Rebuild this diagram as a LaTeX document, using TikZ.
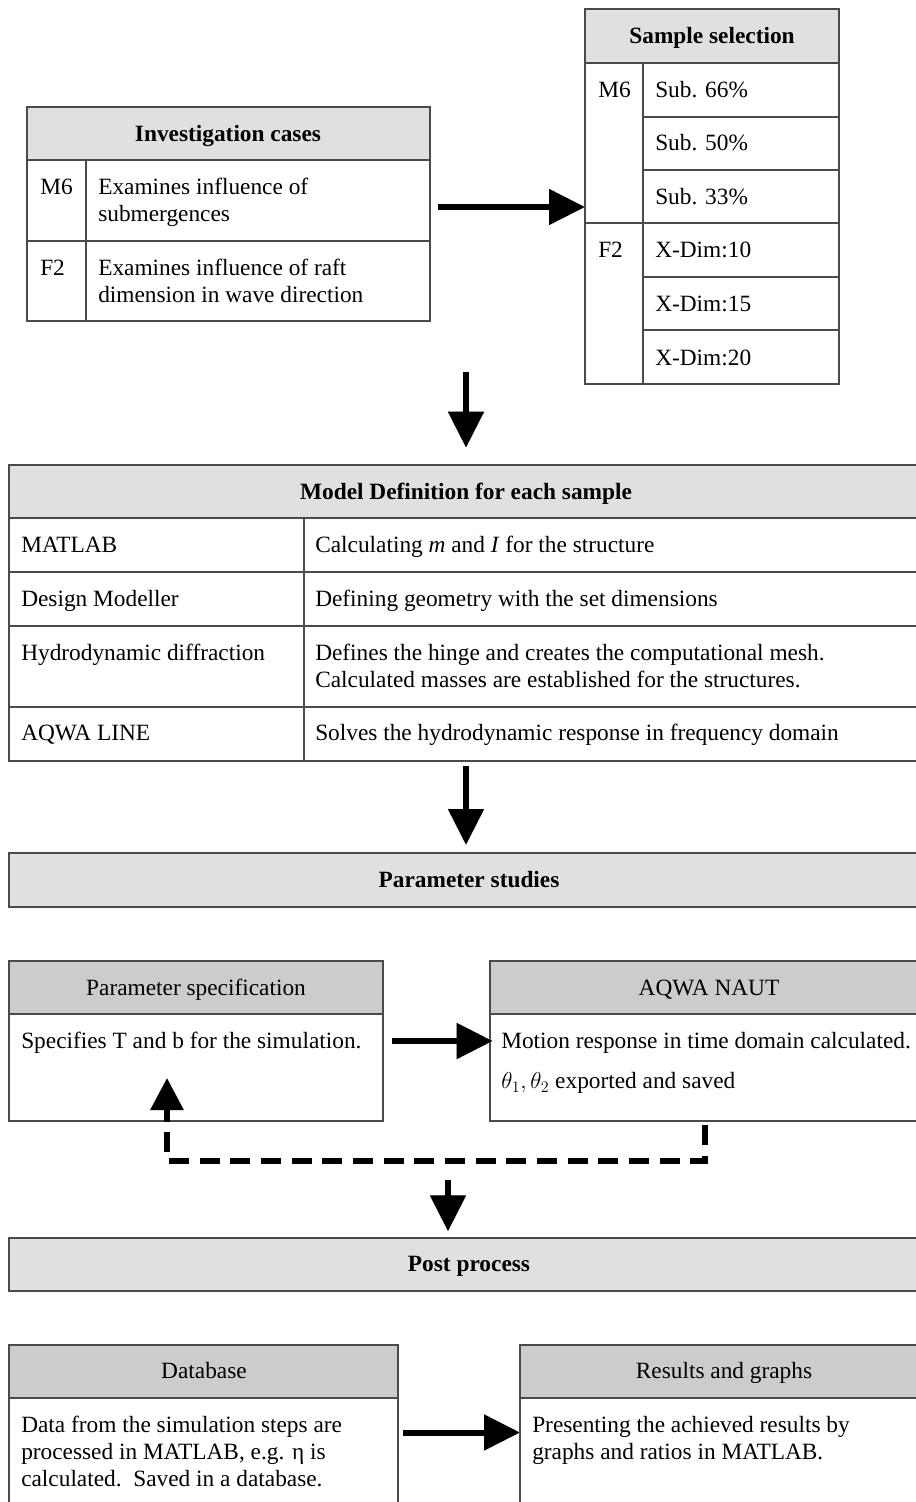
\documentclass[tikz,border=0pt]{standalone}
\usepackage{fontspec}
\setmainfont{Liberation Serif}
\usetikzlibrary{arrows.meta,fit}
\definecolor{hdrlight}{HTML}{E0E0E0}
\definecolor{hdrdark}{HTML}{CCCCCC}
\definecolor{rulec}{HTML}{4A4A4A}
\begin{document}
\begin{tikzpicture}[x=0.75pt,y=-0.75pt,
  font=\fontsize{17.5}{20.25}\selectfont,
  frame/.style={draw=rulec, line width=0.9pt, inner sep=0pt, outer sep=0pt},
  rl/.style={draw=rulec, line width=0.9pt},
  txt/.style={anchor=west, inner sep=0pt, align=left, text height=11.6pt, text depth=0pt},
  hd/.style={inner sep=0pt, text height=11.6pt, text depth=0pt, font=\fontsize{17.5}{20.25}\selectfont\bfseries},
  hn/.style={inner sep=0pt, text height=11.6pt, text depth=0pt},
  arrowshadow/.style={draw=gray!40, line width=4.5pt, -{Triangle[length=27pt,width=26pt]}},
  bigarrow/.style={draw=black, line width=4.5pt, -{Triangle[length=27pt,width=26pt]}},
  dasharrow/.style={line width=4.5pt, dash pattern=on 15pt off 8pt, -{Triangle[length=24pt,width=24pt]}},
]
\useasboundingbox (0,0) rectangle (916,1502);

% ---------- Investigation cases ----------
\fill[hdrlight] (27,107) rectangle (430,160);
\node[frame, fit={(27,107)(430,321)}] (ic) {};
\draw[rl] (27,160) -- (430,160);
\draw[rl] (27,241) -- (430,241);
\draw[rl] (86,160) -- (86,321);
\node[hd] (ich) at (228,134) {Investigation cases};
\node[txt] (icm6) at (40,187) {M6};
\node[txt] (icm6t) at (98,214) {Examines influence of\\submergences};
\node[txt] (icf2) at (40,268) {F2};
\node[txt] (icf2t) at (98,295) {Examines influence of raft\\dimension in wave direction};

% ---------- Sample selection ----------
\fill[hdrlight] (585,9) rectangle (839,63);
\node[frame, fit={(585,9)(839,384)}] (ss) {};
\draw[rl] (585,63) -- (839,63);
\draw[rl] (643,117) -- (839,117);
\draw[rl] (643,170) -- (839,170);
\draw[rl] (585,223) -- (839,223);
\draw[rl] (643,277) -- (839,277);
\draw[rl] (643,330) -- (839,330);
\draw[rl] (643,63) -- (643,384);
\node[hd] (ssh) at (712,36) {Sample selection};
\node[txt] (ssm6) at (598,90) {M6};
\node[txt] (ss1) at (655,90) {Sub. 66\%};
\node[txt] (ss2) at (655,143) {Sub. 50\%};
\node[txt] (ss3) at (655,197) {Sub. 33\%};
\node[txt] (ssf2) at (598,250) {F2};
\node[txt] (ss4) at (655,250) {X-Dim:10};
\node[txt] (ss5) at (655,304) {X-Dim:15};
\node[txt] (ss6) at (655,358) {X-Dim:20};

% ---------- Model definition ----------
\fill[hdrlight] (9,465) rectangle (930,518);
\node[frame, fit={(9,465)(930,761)}] (md) {};
\draw[rl] (9,518) -- (930,518);
\draw[rl] (9,572) -- (930,572);
\draw[rl] (9,626) -- (930,626);
\draw[rl] (9,707) -- (930,707);
\draw[rl] (304,518) -- (304,761);
\node[hd] (mdh) at (466,492) {Model Definition for each sample};
\node[txt] (md1) at (21,545) {MATLAB};
\node[txt] (md2) at (21,599) {Design Modeller};
\node[txt] (md3) at (21,653) {Hydrodynamic diffraction};
\node[txt] (md4) at (21,733) {AQWA LINE};
\node[txt] (md1t) at (315,545) {Calculating \textit{m} and \textit{I} for the structure};
\node[txt] (md2t) at (315,599) {Defining geometry with the set dimensions};
\node[txt] (md3t) at (315,680) {Defines the hinge and creates the computational mesh.\\Calculated masses are established for the structures.};
\node[txt] (md4t) at (315,733) {Solves the hydrodynamic response in frequency domain};

% ---------- Parameter studies ----------
\node[frame, fill=hdrlight, fit={(9,853)(930,907)}] (ps) {};
\node[hd] (psh) at (469,880) {Parameter studies};

% ---------- Parameter specification ----------
\fill[hdrdark] (9,961) rectangle (383,1014);
\node[frame, fit={(9,961)(383,1121)}] (pspec) {};
\draw[rl] (9,1014) -- (383,1014);
\node[hn] (pspech) at (196,988) {Parameter specification};
\node[txt] (pspect) at (21,1041) {Specifies T and b for the simulation.};

% ---------- AQWA NAUT ----------
\fill[hdrdark] (490,961) rectangle (930,1014);
\node[frame, fit={(490,961)(930,1121)}] (naut) {};
\draw[rl] (490,1014) -- (930,1014);
\node[hn] (nauth) at (709,988) {AQWA NAUT};
\node[txt] (nautt1) at (501,1041) {Motion response in time domain calculated.};
\node[txt] (nautt2) at (501,1081) {$\theta_1,\theta_2$ exported and saved};

% ---------- Post process ----------
\node[frame, fill=hdrlight, fit={(9,1238)(930,1291)}] (pp) {};
\node[hd] (pph) at (469,1264) {Post process};

% ---------- Database ----------
\fill[hdrdark] (9,1345) rectangle (398,1398);
\node[frame, fit={(9,1345)(398,1520)}] (db) {};
\draw[rl] (9,1398) -- (398,1398);
\node[hn] (dbh) at (204,1371) {Database};
\node[txt] (dbt) at (21,1479) {Data from the simulation steps are\\processed in MATLAB, e.g. η is\\calculated.\ \ Saved in a database.};

% ---------- Results and graphs ----------
\fill[hdrdark] (520,1345) rectangle (930,1398);
\node[frame, fit={(520,1345)(930,1520)}] (rg) {};
\draw[rl] (520,1398) -- (930,1398);
\node[hn] (rgh) at (724,1371) {Results and graphs};
\node[txt] (rgt) at (532,1452) {Presenting the achieved results by\\graphs and ratios in MATLAB.};

% ---------- Arrows ----------
\coordinate (a1s) at (438,207);
\coordinate (a2s) at (466,372);
\coordinate (a3s) at (466,766);
\coordinate (a5s) at (448,1180);
\coordinate (fb1) at (705,1125);
\coordinate (fb2) at (705,1161);
\coordinate (fb3) at (167,1161);
\coordinate (fb4) at (167,1078);

\foreach \st/\dx/\dy in {arrowshadow/1.5pt/-2pt, bigarrow/0pt/0pt}{
  \begin{scope}[xshift=\dx, yshift=\dy]
  \draw[\st] (a1s) -- (a1s -| ss.west);
  \draw[\st] (a2s) -- ([yshift=13pt]a2s |- md.north);
  \draw[\st] (a3s) -- ([yshift=6pt]a3s |- ps.north);
  \draw[\st] ([xshift=7pt]pspec.east) -- ([xshift=2pt]naut.west);
  \draw[\st] (a5s) -- ([yshift=5pt]a5s |- pp.north);
  \draw[\st] ([xshift=4pt]db.east) -- (rg.west);
  \end{scope}
}
\begin{scope}[xshift=1.5pt, yshift=-2pt]
\draw[dasharrow, draw=gray!40] (fb1) -- (fb2) -- (fb3) -- (fb4);
\end{scope}
\draw[dasharrow, draw=black] (fb1) -- (fb2) -- (fb3) -- (fb4);
\end{tikzpicture}
\end{document}
